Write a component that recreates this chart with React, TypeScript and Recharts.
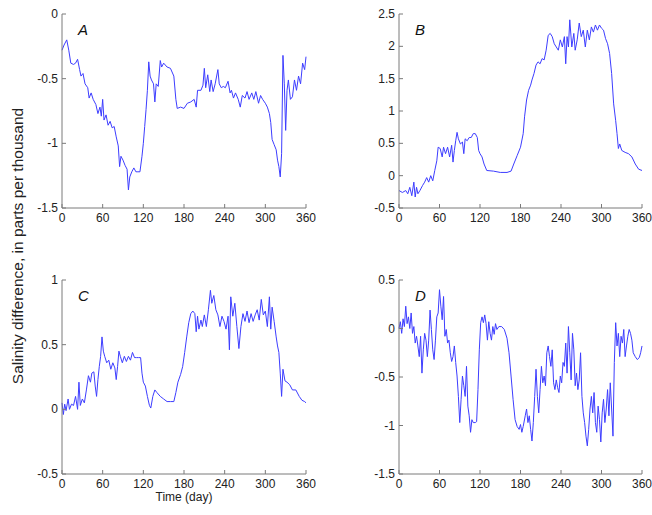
import React from 'react';
import { LineChart, Line, XAxis, YAxis } from 'recharts';

// ---- data (day, salinity difference in ppt) ----
const xTicks = [0, 60, 120, 180, 240, 300, 360];

const yTicksA = [-1.5, -1, -0.5, 0];
const yTicksB = [-0.5, 0, 0.5, 1, 1.5, 2, 2.5];
const yTicksC = [-0.5, 0, 0.5, 1];
const yTicksD = [-1.5, -1, -0.5, 0, 0.5];

const seriesA: [number, number][] = [
  [0, -0.28], [3, -0.24], [7, -0.2], [10, -0.28], [13, -0.38], [17, -0.39], [20, -0.38], [23, -0.35],
  [26, -0.43], [28, -0.48], [31, -0.46], [34, -0.54], [38, -0.57], [40, -0.65], [43, -0.61], [46, -0.66],
  [50, -0.7], [53, -0.77], [56, -0.72], [58, -0.79], [60, -0.66], [62, -0.82], [65, -0.78], [68, -0.86],
  [71, -0.83], [74, -0.88], [77, -0.87], [80, -0.95], [83, -1.02], [85, -1.18], [87, -1.1], [90, -1.13],
  [93, -1.17], [96, -1.2], [98, -1.36], [100, -1.26], [103, -1.22], [106, -1.19], [109, -1.22], [112, -1.22],
  [115, -1.22], [118, -1.1], [120, -1.0], [122, -0.87], [124, -0.74], [126, -0.59], [128, -0.37], [130, -0.48],
  [132, -0.51], [135, -0.54], [137, -0.68], [139, -0.54], [142, -0.56], [145, -0.36], [147, -0.41], [150, -0.38],
  [155, -0.41], [160, -0.42], [165, -0.48], [168, -0.66], [170, -0.73], [175, -0.72], [180, -0.73], [185, -0.69],
  [190, -0.68], [195, -0.66], [198, -0.72], [200, -0.59], [205, -0.59], [208, -0.55], [210, -0.42], [212, -0.57],
  [215, -0.47], [218, -0.6], [220, -0.51], [223, -0.6], [226, -0.54], [230, -0.43], [232, -0.54], [235, -0.57],
  [238, -0.56], [241, -0.57], [245, -0.52], [248, -0.61], [250, -0.59], [253, -0.65], [256, -0.61], [260, -0.66],
  [263, -0.72], [266, -0.63], [270, -0.65], [273, -0.6], [276, -0.66], [280, -0.61], [283, -0.66], [286, -0.6],
  [290, -0.69], [293, -0.63], [296, -0.66], [300, -0.69], [303, -0.72], [306, -0.77], [308, -0.84], [310, -0.97],
  [313, -1.01], [316, -1.05], [318, -1.13], [320, -1.18], [322, -1.26], [324, -1.08], [326, -0.32], [328, -0.54],
  [330, -0.9], [332, -0.59], [334, -0.51], [337, -0.66], [340, -0.64], [343, -0.51], [346, -0.59], [349, -0.48],
  [352, -0.54], [355, -0.38], [358, -0.43], [360, -0.33],
];

const seriesB: [number, number][] = [
  [0, -0.23], [5, -0.26], [10, -0.23], [13, -0.28], [16, -0.18], [19, -0.31], [22, -0.1], [24, -0.33],
  [26, -0.18], [28, -0.28], [31, -0.23], [35, -0.15], [38, -0.1], [41, -0.03], [44, -0.1], [47, 0.0],
  [50, -0.08], [53, 0.08], [56, 0.23], [58, 0.44], [61, 0.42], [64, 0.29], [66, 0.44], [69, 0.34],
  [72, 0.44], [75, 0.29], [78, 0.47], [80, 0.21], [82, 0.39], [84, 0.54], [86, 0.67], [88, 0.57],
  [91, 0.49], [94, 0.52], [96, 0.34], [98, 0.57], [101, 0.54], [104, 0.59], [107, 0.59], [110, 0.65],
  [113, 0.65], [116, 0.59], [118, 0.39], [120, 0.34], [123, 0.29], [126, 0.18], [130, 0.08], [140, 0.07],
  [150, 0.05], [160, 0.05], [166, 0.07], [170, 0.18], [175, 0.31], [180, 0.44], [184, 0.65], [186, 0.91],
  [189, 1.17], [192, 1.32], [195, 1.4], [197, 1.48], [200, 1.58], [203, 1.71], [206, 1.76], [209, 1.73],
  [212, 1.81], [215, 1.79], [218, 1.94], [221, 2.17], [224, 2.2], [227, 2.15], [230, 2.04], [233, 1.99],
  [236, 1.94], [239, 2.1], [242, 1.99], [245, 2.15], [247, 1.73], [249, 2.15], [251, 1.99], [253, 2.41],
  [256, 1.99], [259, 2.2], [261, 1.94], [264, 2.1], [267, 2.36], [270, 2.15], [273, 2.25], [276, 1.99],
  [279, 2.25], [282, 2.1], [285, 2.3], [288, 2.22], [291, 2.33], [294, 2.25], [297, 2.33], [300, 2.28],
  [303, 2.25], [306, 2.12], [309, 2.04], [312, 1.89], [315, 1.58], [318, 1.11], [321, 0.85], [323, 0.65],
  [325, 0.42], [327, 0.49], [330, 0.39], [335, 0.36], [340, 0.34], [345, 0.29], [350, 0.18], [355, 0.1],
  [360, 0.08],
];

const seriesC: [number, number][] = [
  [0, 0.05], [2, -0.04], [4, 0.04], [6, -0.01], [9, 0.08], [11, 0.0], [14, 0.04], [17, 0.03],
  [20, 0.1], [23, 0.0], [25, 0.21], [27, 0.03], [30, 0.08], [33, 0.05], [36, 0.15], [39, 0.26],
  [42, 0.21], [44, 0.28], [47, 0.29], [49, 0.18], [51, 0.1], [53, 0.23], [55, 0.33], [57, 0.41],
  [59, 0.56], [61, 0.45], [63, 0.41], [66, 0.36], [69, 0.38], [72, 0.31], [75, 0.36], [78, 0.32],
  [80, 0.23], [82, 0.33], [84, 0.45], [86, 0.41], [89, 0.36], [92, 0.41], [95, 0.37], [98, 0.41],
  [101, 0.38], [104, 0.44], [107, 0.4], [110, 0.4], [113, 0.4], [116, 0.4], [118, 0.28], [120, 0.21],
  [123, 0.18], [126, 0.1], [129, 0.03], [131, 0.01], [134, 0.1], [137, 0.15], [140, 0.13], [145, 0.1],
  [150, 0.08], [155, 0.06], [160, 0.06], [165, 0.06], [168, 0.13], [171, 0.21], [175, 0.27], [178, 0.33],
  [181, 0.44], [184, 0.56], [187, 0.67], [190, 0.74], [193, 0.76], [196, 0.74], [198, 0.6], [200, 0.72],
  [202, 0.62], [205, 0.69], [207, 0.64], [210, 0.73], [213, 0.64], [216, 0.77], [219, 0.92], [221, 0.82],
  [224, 0.88], [227, 0.77], [230, 0.73], [233, 0.64], [236, 0.72], [239, 0.68], [242, 0.62], [245, 0.72],
  [247, 0.46], [249, 0.87], [252, 0.72], [255, 0.82], [258, 0.64], [261, 0.47], [264, 0.64], [267, 0.74],
  [270, 0.68], [273, 0.76], [276, 0.67], [279, 0.74], [282, 0.68], [285, 0.73], [288, 0.77], [291, 0.69],
  [294, 0.85], [297, 0.73], [300, 0.76], [303, 0.64], [306, 0.87], [308, 0.62], [310, 0.79], [313, 0.68],
  [316, 0.56], [318, 0.49], [320, 0.44], [322, 0.28], [324, 0.1], [326, 0.31], [329, 0.22], [332, 0.21],
  [336, 0.19], [340, 0.15], [345, 0.15], [350, 0.1], [354, 0.07], [358, 0.06], [360, 0.05],
];

const seriesD: [number, number][] = [
  [0, 0.0], [2, 0.07], [4, -0.05], [6, 0.1], [8, 0.02], [10, 0.23], [12, 0.05], [14, 0.12],
  [16, 0.0], [18, 0.16], [20, -0.05], [22, 0.02], [24, -0.15], [26, -0.08], [28, -0.18], [30, -0.29],
  [32, -0.08], [34, -0.46], [36, -0.22], [38, -0.05], [40, -0.12], [42, -0.29], [44, -0.12], [46, 0.19],
  [48, -0.01], [50, -0.22], [52, -0.32], [54, -0.12], [56, 0.12], [58, 0.16], [60, 0.4], [62, 0.23],
  [64, 0.09], [66, 0.33], [68, -0.08], [70, -0.01], [72, -0.15], [74, -0.12], [76, -0.25], [78, -0.34],
  [80, -0.29], [82, -0.18], [84, -0.35], [86, -0.49], [88, -0.7], [90, -0.97], [92, -0.73], [94, -0.49],
  [96, -0.59], [98, -0.7], [100, -0.39], [102, -0.8], [104, -0.9], [106, -1.07], [108, -0.94], [110, -0.97],
  [113, -0.97], [115, -0.96], [117, -0.63], [119, -0.22], [121, 0.06], [123, 0.12], [125, 0.06], [127, 0.14],
  [129, 0.05], [131, -0.12], [133, 0.07], [135, -0.05], [137, -0.12], [139, 0.02], [141, -0.06], [143, 0.05],
  [145, -0.01], [148, 0.02], [152, 0.02], [156, -0.01], [160, -0.1], [163, -0.25], [166, -0.49], [169, -0.73],
  [172, -0.94], [175, -1.01], [178, -1.04], [180, -0.99], [182, -1.07], [184, -1.01], [187, -0.9], [189, -0.83],
  [191, -0.97], [193, -0.9], [195, -1.04], [197, -1.16], [199, -0.97], [201, -0.7], [203, -0.42], [205, -0.7],
  [207, -0.87], [209, -0.63], [211, -0.39], [213, -0.56], [215, -0.49], [217, -0.59], [219, -0.25], [221, -0.18],
  [223, -0.29], [225, -0.39], [227, -0.22], [229, -0.56], [231, -0.63], [233, -0.53], [235, -0.61], [237, -0.66],
  [239, -0.49], [241, -0.56], [243, -0.35], [245, -0.39], [247, -0.15], [249, -0.46], [251, 0.02], [253, -0.25],
  [255, -0.53], [257, -0.05], [259, -0.22], [261, -0.59], [263, -0.46], [265, -0.63], [267, -0.53], [269, -0.25],
  [271, -0.7], [273, -0.87], [275, -0.97], [277, -1.11], [279, -1.21], [281, -1.04], [283, -0.83], [285, -0.7],
  [287, -0.87], [289, -0.66], [291, -0.97], [293, -1.07], [295, -0.8], [297, -0.94], [299, -1.17], [301, -0.87],
  [303, -0.73], [305, -0.97], [307, -0.83], [309, -0.63], [311, -0.9], [313, -0.56], [315, -0.83], [317, -1.11],
  [319, -0.35], [321, 0.06], [323, -0.18], [325, -0.05], [327, -0.29], [329, -0.08], [331, -0.15], [333, -0.01],
  [335, -0.29], [337, -0.18], [339, -0.08], [341, -0.01], [343, -0.05], [345, -0.12], [347, -0.25], [350, -0.29],
  [353, -0.32], [356, -0.3], [358, -0.25], [360, -0.18],
];

// ---- styling ----
const BOX = '#7a7a7a';
const LINE = '#3d3dff';
const TXT = '#222';
const FONT = 'Liberation Sans, Arial, sans-serif';
const TL = 4;

const BottomTick = (p: any) => (
  <g>
    <line x1={p.x} y1={p.y} x2={p.x} y2={p.y - TL} stroke={BOX} />
    <text x={p.x} y={p.y + 14} textAnchor="middle" fontSize={12} fill={TXT} fontFamily={FONT}>
      {p.payload.value}
    </text>
  </g>
);
const TopTick = (p: any) => (
  <line x1={p.x} y1={p.y} x2={p.x} y2={p.y + TL} stroke={BOX} />
);
const LeftTick = (p: any) => (
  <g>
    <line x1={p.x} y1={p.y} x2={p.x + TL} y2={p.y} stroke={BOX} />
    <text x={p.x - 4} y={p.y + 4} textAnchor="end" fontSize={12} fill={TXT} fontFamily={FONT}>
      {p.payload.value}
    </text>
  </g>
);
const RightTick = (p: any) => (
  <line x1={p.x} y1={p.y} x2={p.x - TL} y2={p.y} stroke={BOX} />
);

type PanelProps = {
  label: string;
  series: [number, number][];
  yTicks: number[];
  left: number;
  top: number;
  width: number;
};

const Panel = ({ label, series, yTicks, left, top, width }: PanelProps) => {
  const data = series.map(([day, v]) => ({ day, v }));
  const yDomain: [number, number] = [yTicks[0], yTicks[yTicks.length - 1]];
  return (
    <div style={{ position: 'absolute', left, top }}>
      <LineChart width={width} height={234} data={data} margin={{ top: 10, right: 10, bottom: 5, left: 0 }}>
        <XAxis
          dataKey="day"
          type="number"
          domain={[0, 360]}
          ticks={xTicks}
          interval={0}
          height={25}
          tickSize={0}
          tickMargin={0}
          tickLine={false}
          axisLine={{ stroke: BOX }}
          tick={BottomTick}
        />
        <XAxis
          xAxisId="top"
          orientation="top"
          dataKey="day"
          type="number"
          domain={[0, 360]}
          ticks={xTicks}
          interval={0}
          height={0}
          tickSize={0}
          tickMargin={0}
          tickLine={false}
          axisLine={{ stroke: BOX }}
          tick={TopTick}
        />
        <YAxis
          type="number"
          domain={yDomain}
          ticks={yTicks}
          interval={0}
          width={40}
          tickSize={0}
          tickMargin={0}
          tickLine={false}
          axisLine={{ stroke: BOX }}
          tick={LeftTick}
        />
        <YAxis
          yAxisId="right"
          orientation="right"
          type="number"
          domain={yDomain}
          ticks={yTicks}
          interval={0}
          width={0}
          tickSize={0}
          tickMargin={0}
          tickLine={false}
          axisLine={{ stroke: BOX }}
          tick={RightTick}
        />
        <Line
          type="linear"
          dataKey="v"
          stroke={LINE}
          strokeWidth={1}
          dot={false}
          activeDot={false}
          isAnimationActive={false}
        />
      </LineChart>
      <div
        style={{
          position: 'absolute',
          left: 56,
          top: 17,
          fontFamily: FONT,
          fontStyle: 'italic',
          fontSize: 15,
          color: '#111',
        }}
      >
        {label}
      </div>
    </div>
  );
};

export default function App() {
  return (
    <div
      style={{
        position: 'absolute',
        left: 0,
        top: 0,
        width: 652,
        height: 515,
        background: '#fff',
        fontFamily: FONT,
      }}
    >
      <Panel label="A" series={seriesA} yTicks={yTicksA} left={22} top={4} width={294} />
      <Panel label="B" series={seriesB} yTicks={yTicksB} left={359} top={4} width={293} />
      <Panel label="C" series={seriesC} yTicks={yTicksC} left={22} top={270} width={294} />
      <Panel label="D" series={seriesD} yTicks={yTicksD} left={359} top={270} width={293} />
      <div
        style={{
          position: 'absolute',
          left: 18,
          top: 246,
          transform: 'translate(-50%, -50%) rotate(-90deg)',
          whiteSpace: 'nowrap',
          fontSize: 15.5,
          color: '#222',
        }}
      >
        Salinity difference, in parts per thousand
      </div>
      <div
        style={{
          position: 'absolute',
          left: 184,
          top: 490,
          transform: 'translateX(-50%)',
          whiteSpace: 'nowrap',
          fontSize: 12,
          color: '#222',
        }}
      >
        Time (day)
      </div>
    </div>
  );
}
